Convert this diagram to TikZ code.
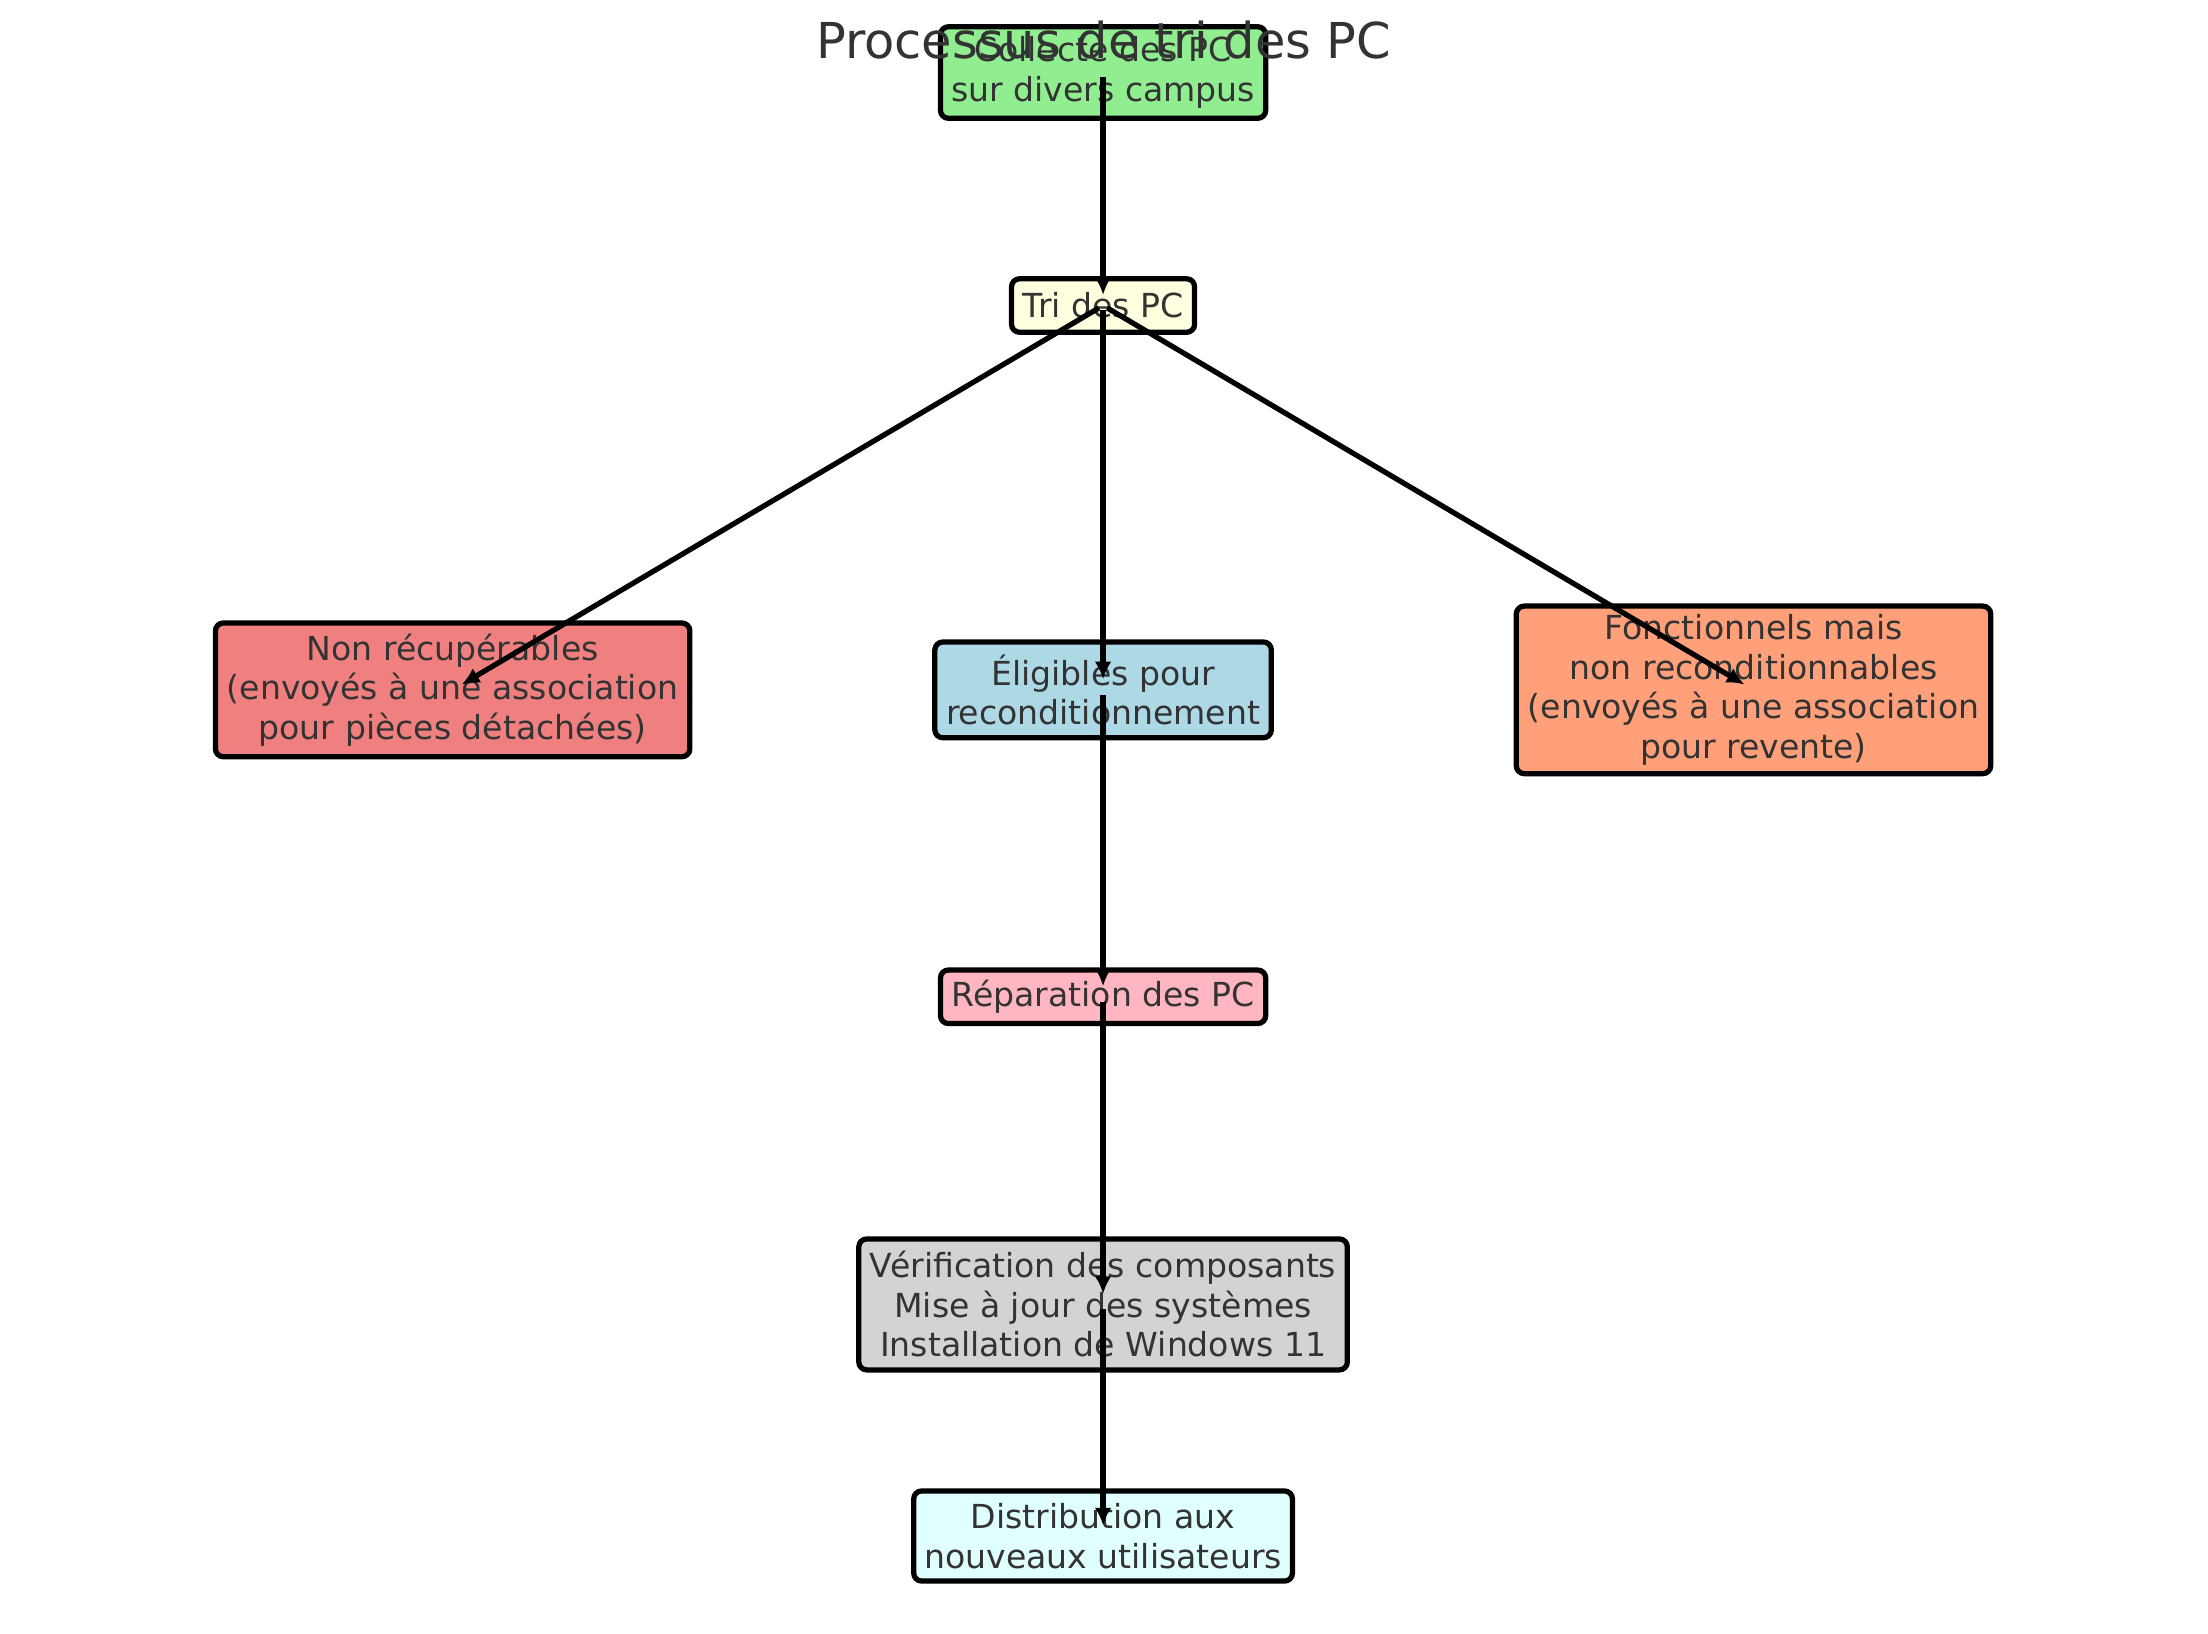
\documentclass[tikz,border=0pt]{standalone}
\usepackage{fontspec}
\setmainfont{DejaVu Sans}
\usetikzlibrary{arrows.meta, positioning}
\definecolor{textegris}{HTML}{333333}
\definecolor{vertclair}{HTML}{90EE90}
\definecolor{jauneclair}{HTML}{FFFFE0}
\definecolor{corailclair}{HTML}{F08080}
\definecolor{bleuclair}{HTML}{ADD8E6}
\definecolor{saumonclair}{HTML}{FFA07A}
\definecolor{roseclair}{HTML}{FFB6C1}
\definecolor{grisclair}{HTML}{D3D3D3}
\definecolor{cyanclair}{HTML}{E0FFFF}
\tikzset{etape/.style={draw=black,line width=1.7pt,rounded corners=0.9mm,align=center,inner sep=0pt,text=textegris,font=\fontsize{10.7}{12.75}\selectfont}}
\tikzset{titre/.style={anchor=base,inner sep=0pt,text=textegris,font=\fontsize{16}{19}\selectfont}}
\tikzset{fleche/.style={->,line width=1.7pt,shorten >=1.2mm,shorten <=0.55mm}}

\begin{document}
\begin{tikzpicture}[>={Latex[length=2mm,width=1.9mm]}]
                    \useasboundingbox (0,0) rectangle (25.093,-18.561);

                    \node[etape, fill=vertclair, minimum width=36.96mm, minimum height=10.4mm](collecte) at (12.536,-0.824){Collecte des PC\\sur divers campus};
                    \node[etape, fill=jauneclair, minimum width=20.8mm, minimum height=6.08mm](tri)[below of=collecte, node distance=2.648cm]{Tri des PC};
                    \node[etape, fill=bleuclair, minimum width=38.24mm, minimum height=10.88mm](eligibles)[below of=tri, node distance=4.368cm]{Éligibles pour\\reconditionnement};
                    \node[etape, fill=corailclair, minimum width=53.92mm, minimum height=15.2mm](nonrecup)[left of=eligibles, node distance=7.392cm]{Non récupérables\\(envoyés à une association\\pour pièces détachées)};
                    \node[etape, fill=saumonclair, minimum width=53.92mm, minimum height=19.04mm](fonctionnels)[right of=eligibles, node distance=7.392cm]{Fonctionnels mais\\non reconditionnables\\(envoyés à une association\\pour revente)};
                    \node[etape, fill=roseclair, minimum width=36.96mm, minimum height=6.08mm](reparation)[below of=eligibles, node distance=3.488cm]{Réparation des PC};
                    \node[etape, fill=grisclair, minimum width=55.52mm, minimum height=14.88mm](verification)[below of=reparation, node distance=3.496cm]{Vérification des composants\\Mise à jour des systèmes\\Installation de Windows 11};
                    \node[etape, fill=cyanclair, minimum width=43.04mm, minimum height=10.24mm](distribution)[below of=verification, node distance=2.632cm]{Distribution aux\\nouveaux utilisateurs};

                    \path[fleche] (collecte.center) edge (tri.center);
                    \path[fleche] (tri.center) edge (nonrecup.center);
                    \path[fleche] (tri.center) edge (eligibles.center);
                    \path[fleche] (tri.center) edge (fonctionnels.center);
                    \path[fleche] (eligibles.center) edge (reparation.center);
                    \path[fleche] (reparation.center) edge (verification.center);
                    \path[fleche] (verification.center) edge (distribution.center);

                    \node[titre](titre) at (12.544,-0.664){Processus de tri des PC};

                \end{tikzpicture}
\end{document}
